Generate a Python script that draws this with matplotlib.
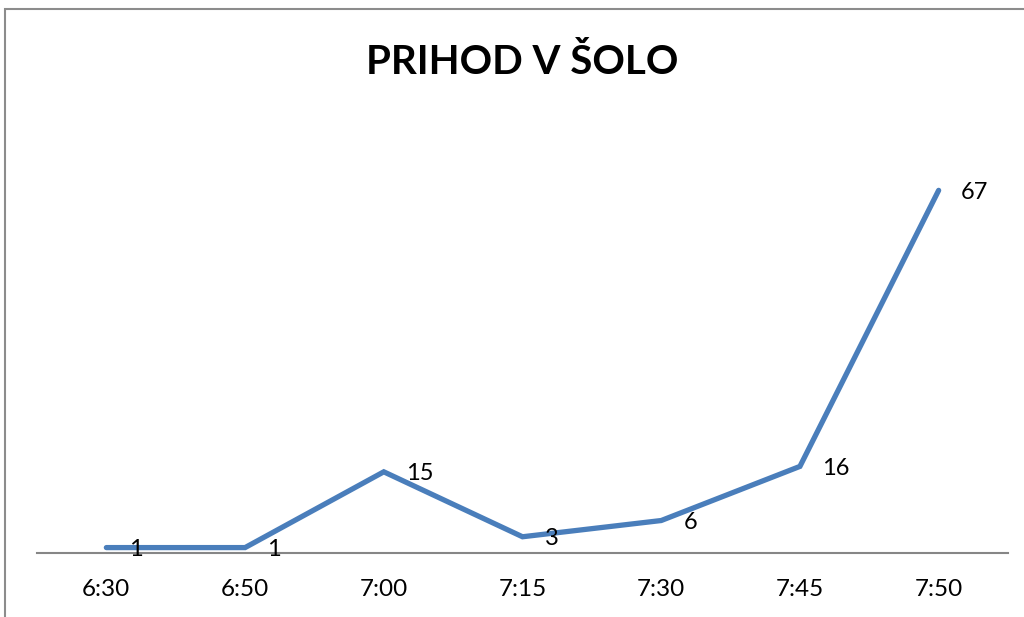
import matplotlib.pyplot as plt
from matplotlib.patches import Rectangle

# data
times = ['6:30', '6:50', '7:00', '7:15', '7:30', '7:45', '7:50']
students = [1, 1, 15, 3, 6, 16, 67]

plt.rcParams['font.family'] = ['Lato', 'DejaVu Sans']

fig = plt.figure(figsize=(10.24, 6.17), dpi=100)
# chart border
fig.patches.append(Rectangle((5 / 1024, -0.1), 1.1, 1 - 9 / 617 + 0.1,
                             transform=fig.transFigure, fill=False,
                             edgecolor='#8c8c8c', linewidth=1.5))

ax = fig.add_axes([37 / 1024, (617 - 553) / 617, (1008 - 37) / 1024, 433 / 617])
x = list(range(len(times)))
ax.plot(x, students, color='#4a7ebb', linewidth=3.8, solid_capstyle='round',
        solid_joinstyle='miter')
for xi, v in zip(x, students):
    ax.annotate(str(v), (xi, v), xytext=(16, -1.5), textcoords='offset points',
                ha='left', va='center', fontsize=17)

ax.set_xlim(-0.5, len(times) - 0.5)
ax.set_ylim(0, 80)
ax.set_xticks(x)
ax.set_xticklabels(times, fontsize=17.5)
ax.tick_params(axis='x', length=0, pad=19)
ax.set_yticks([])
for s in ['top', 'right', 'left']:
    ax.spines[s].set_visible(False)
ax.spines['bottom'].set_color('#868686')
ax.spines['bottom'].set_linewidth(1.5)

fig.text(522 / 1024, 1 - 62 / 617, 'PRIHOD V ŠOLO', ha='center', va='center',
         fontsize=29, fontweight='bold')

fig.savefig('out.png', dpi=100)
